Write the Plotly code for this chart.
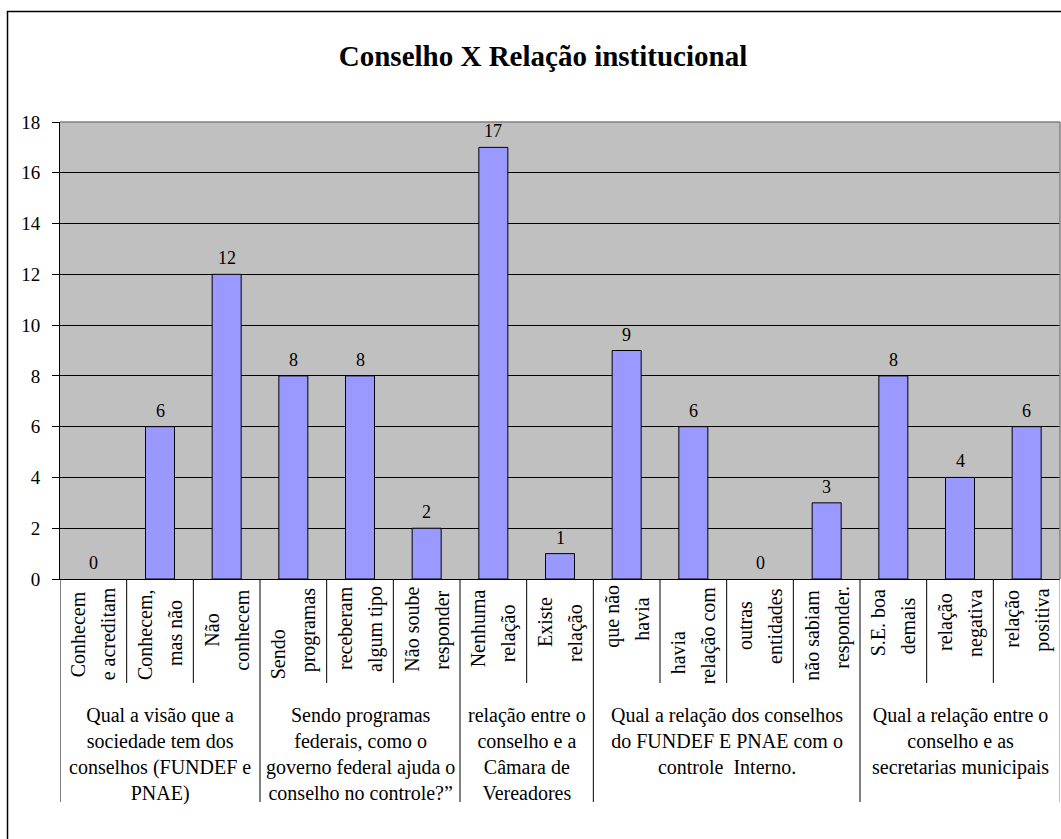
import plotly.graph_objects as go

# ---- data -------------------------------------------------------------
title = "Conselho X Relação institucional"

# each category label is shown on two rotated lines
category_lines = [
    ("Conhecem", "e acreditam"),
    ("Conhecem,", "mas não"),
    ("Não", "conhecem"),
    ("Sendo", "programas"),
    ("receberam", "algum tipo"),
    ("Não soube", "responder"),
    ("Nenhuma", "relação"),
    ("Existe", "relação"),
    ("que não", "havia"),
    ("havia", "relação com"),
    ("outras", "entidades"),
    ("não sabiam", "responder."),
    ("S.E. boa", "demais"),
    ("relação", "negativa"),
    ("relação", "positiva"),
]
values = [0, 6, 12, 8, 8, 2, 17, 1, 9, 6, 0, 3, 8, 4, 6]

group_labels = [
    "Qual a visão que a<br>sociedade tem dos<br>conselhos (FUNDEF e<br>PNAE)",
    "Sendo programas<br>federais, como o<br>governo federal ajuda o<br>conselho no controle?”",
    "relação entre o<br>conselho e a<br>Câmara de<br>Vereadores",
    "Qual a relação dos conselhos<br>do FUNDEF E PNAE com o<br>controle  Interno.",
    "Qual a relação entre o<br>conselho e as<br>secretarias municipais",
]
group_sizes = [3, 3, 2, 4, 3]

categories = [f"{a} {b}" for a, b in category_lines]

# ---- layout constants (pixels) ---------------------------------------
W, H = 1061, 839
L, R, T, B = 60, 1060, 122, 579
FONT = "Liberation Serif, Times New Roman, serif"
BAR_COLOR = "#9999FF"
PLOT_BG = "#C0C0C0"

# vertical centre of each rotated label line (line 1, line 2)
label_mid = [
    (634, 634), (635, 633), (630, 630), (654, 630), (628, 629),
    (629, 630), (628, 633), (622, 633), (616, 619), (653, 635),
    (626, 626), (635, 627), (623, 626), (622, 623), (619, 620),
]


def px_x(px):
    return (px - L) / (R - L)


def px_y(py):
    return (B - py) / (B - T)


fig = go.Figure()
fig.add_trace(
    go.Bar(
        x=categories,
        y=values,
        width=0.435,
        marker=dict(
            color=BAR_COLOR,
            line=dict(color="black", width=[0 if v == 0 else 1 for v in values]),
        ),
        hoverinfo="x+y",
    )
)

annotations = []
shapes = []

# value labels above the bars
for cat, v in zip(categories, values):
    annotations.append(dict(
        x=cat, y=v, xref="x", yref="y", text=str(v), showarrow=False,
        yanchor="middle", yshift=16,
        font=dict(family=FONT, size=18, color="black"),
    ))

# rotated category labels
for i, ((l1, l2), (m1, m2)) in enumerate(zip(category_lines, label_mid)):
    for txt, shift, mid in ((l1, -15, m1), (l2, 15, m2)):
        annotations.append(dict(
            x=categories[i], y=px_y(mid), xref="x", yref="paper", text=txt,
            showarrow=False, textangle=-90, xshift=shift,
            xanchor="center", yanchor="middle",
            font=dict(family=FONT, size=20, color="black"),
        ))

# group labels and separators
start = 0
bounds = [-0.5]
for lab, n in zip(group_labels, group_sizes):
    centre = start + (n - 1) / 2
    annotations.append(dict(
        x=centre, y=px_y(702), xref="x", yref="paper", text=lab,
        showarrow=False, xanchor="center", yanchor="top", align="center",
        font=dict(family=FONT, size=20, color="black"),
    ))
    start += n
    bounds.append(start - 0.5)

for k in range(len(categories) + 1):
    b = k - 0.5
    bottom = 802 if b in bounds else 683
    color = "#808080" if k == len(categories) else "black"
    shapes.append(dict(
        type="line", xref="x", yref="paper", x0=b, x1=b,
        y0=px_y(B), y1=px_y(bottom), line=dict(color=color, width=1),
    ))

# plot area top / right edges
shapes.append(dict(type="line", xref="paper", yref="paper", x0=0, x1=1,
                   y0=1, y1=1, line=dict(color="#808080", width=1.5)))
shapes.append(dict(type="line", xref="paper", yref="paper", x0=1, x1=1,
                   y0=0, y1=1, line=dict(color="#808080", width=1.5)))

# chart frame
shapes.append(dict(type="rect", xref="paper", yref="paper",
                   x0=px_x(7.5), x1=px_x(1066), y0=px_y(845), y1=px_y(11.5),
                   line=dict(color="black", width=1.5), layer="above"))

fig.update_layout(
    width=W, height=H,
    margin=dict(l=L, r=W - R, t=T, b=H - B, pad=0),
    paper_bgcolor="white",
    plot_bgcolor=PLOT_BG,
    showlegend=False,
    title=dict(text=f"<b>{title}</b>", x=543 / W,
               xanchor="center", y=1 - 56 / H, yanchor="middle",
               font=dict(family=FONT, size=29, color="black")),
    font=dict(family=FONT, color="black"),
    annotations=annotations,
    shapes=shapes,
    bargap=0.565,
)
fig.update_xaxes(
    type="category", range=[-0.5, len(categories) - 0.5],
    showticklabels=False, ticks="", showgrid=False,
    showline=True, linecolor="black", linewidth=1, zeroline=False,
)
fig.update_yaxes(
    range=[0, 18], dtick=2, tick0=0,
    showgrid=True, gridcolor="black", gridwidth=1,
    showline=True, linecolor="black", linewidth=1,
    ticks="outside", ticklen=7, tickcolor="black", tickwidth=1,
    ticklabelstandoff=8,
    tickfont=dict(family=FONT, size=19, color="black"),
    zeroline=False,
)

fig.write_html("out.html")
